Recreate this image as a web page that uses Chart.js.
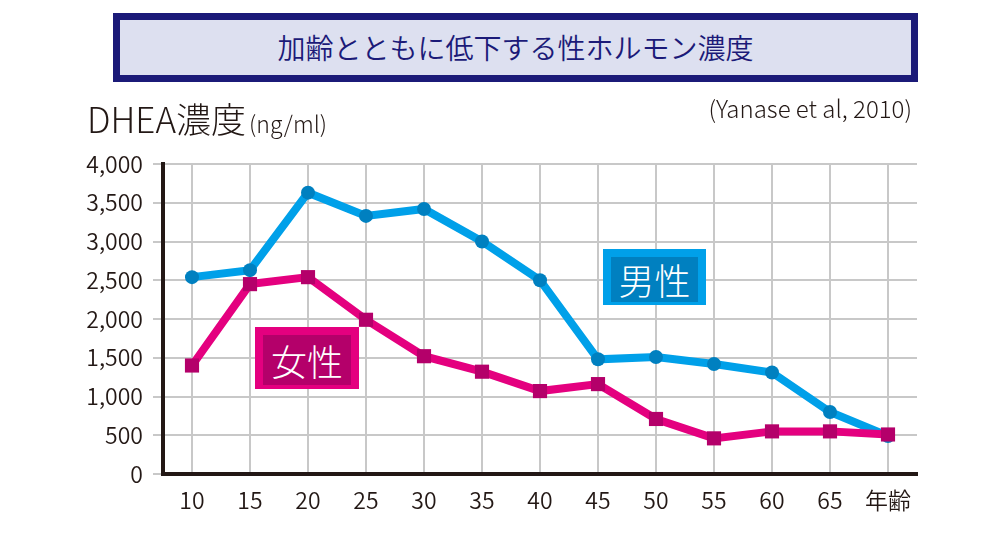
<!DOCTYPE html>
<html>
<head>
<meta charset="utf-8">
<script src="https://cdn.jsdelivr.net/npm/chart.js@4/dist/chart.umd.min.js"></script>
<style>
  body { margin: 0; background: #fff; }
  #wrap { position: relative; width: 1000px; height: 536px; font-family: "Noto Sans CJK JP", sans-serif; font-weight: 350; color: #231815; }
  #chart { position: absolute; left: 0; top: 0; }
  .abs { position: absolute; white-space: nowrap; }
  #title { left: 113px; top: 13px; width: 805px; height: 69px; box-sizing: border-box; border: 7px solid #1b1a78;
           background: #dde0f0; color: #1b1a78; font-size: 28px; line-height: 55px; text-align: center; }
  #ytitle { left: 87px; top: 97px; font-size: 35px; line-height: 42px; font-weight: 300; }
  #ytitle span { font-size: 23px; margin-left: 3px; }
  #src { right: 88px; top: 93px; font-size: 24px; line-height: 30px; font-weight: 300; }
  .tag { color: #fff; font-size: 36px; text-align: center; font-weight: 300; }
</style>
</head>
<body>
<div id="wrap">
  <canvas id="chart" width="1000" height="536"></canvas>
  <div id="title" class="abs">加齢とともに低下する性ホルモン濃度</div>
  <div id="ytitle" class="abs">DHEA濃度<span>(ng/ml)</span></div>
  <div id="src" class="abs">(Yanase et al, 2010)</div>
  <div class="abs" style="left:603px;top:249px;width:103px;height:56px;background:#00a0e9"></div>
  <div class="abs tag" style="left:611px;top:257px;width:87px;height:45px;line-height:45px;background:#0080c0">男性</div>
  <div class="abs" style="left:255px;top:327px;width:104px;height:62px;background:#e4007f"></div>
  <div class="abs tag" style="left:263px;top:335px;width:88px;height:50px;line-height:50px;background:#b4006a">女性</div>
</div>
<script>
const ages = ["10", "15", "20", "25", "30", "35", "40", "45", "50", "55", "60", "65", "年齢"];
const male = [2540, 2630, 3630, 3330, 3420, 3000, 2500, 1480, 1510, 1420, 1310, 800, 490];
const female = [1400, 2450, 2540, 1990, 1520, 1320, 1070, 1160, 710, 460, 550, 550, 510];
const yTicks = [0, 500, 1000, 1500, 2000, 2500, 3000, 3500, 4000];

const ctx = document.querySelector("#chart").getContext("2d");
const font = { family: "'Noto Sans CJK JP', sans-serif", size: 23, weight: 350 };

new Chart(ctx, {
  type: 'line',
  data: {
    labels: ages,
    datasets: [{
      label: '女性',
      data: female,
      borderColor: '#e4007f',
      borderWidth: 8,
      pointStyle: 'rect',
      pointRadius: 10,
      pointBackgroundColor: '#b4006a',
      pointBorderWidth: 0,
      tension: 0
    }, {
      label: '男性',
      data: male,
      borderColor: '#00a0e9',
      borderWidth: 8,
      pointStyle: 'circle',
      pointRadius: 7,
      pointBackgroundColor: '#0080c0',
      pointBorderWidth: 0,
      tension: 0
    }]
  },
  options: {
    responsive: false,
    animation: false,
    layout: { padding: { left: 0, right: 83, top: 164, bottom: 0 } },
    plugins: { legend: { display: false }, tooltip: { enabled: false } },
    scales: {
      x: {
        offset: true,
        grid: { color: '#c8c8c8', lineWidth: 2, drawTicks: false },
        border: { color: '#231815', width: 4 },
        ticks: { color: '#231815', font: font, padding: 12, maxRotation: 0, autoSkip: false },
        afterFit: (s) => { s.height = 62; }
      },
      y: {
        min: 0,
        max: 4000,
        afterBuildTicks: (s) => { s.ticks = yTicks.map(v => ({ value: v })); },
        grid: { color: '#c8c8c8', lineWidth: 2, tickLength: 10 },
        border: { color: '#231815', width: 4 },
        ticks: {
          color: '#231815', font: font, padding: 10,
          callback: (v) => v.toLocaleString('en-US')
        },
        afterFit: (s) => { s.width = 163; }
      }
    }
  }
});
</script>
</body>
</html>
